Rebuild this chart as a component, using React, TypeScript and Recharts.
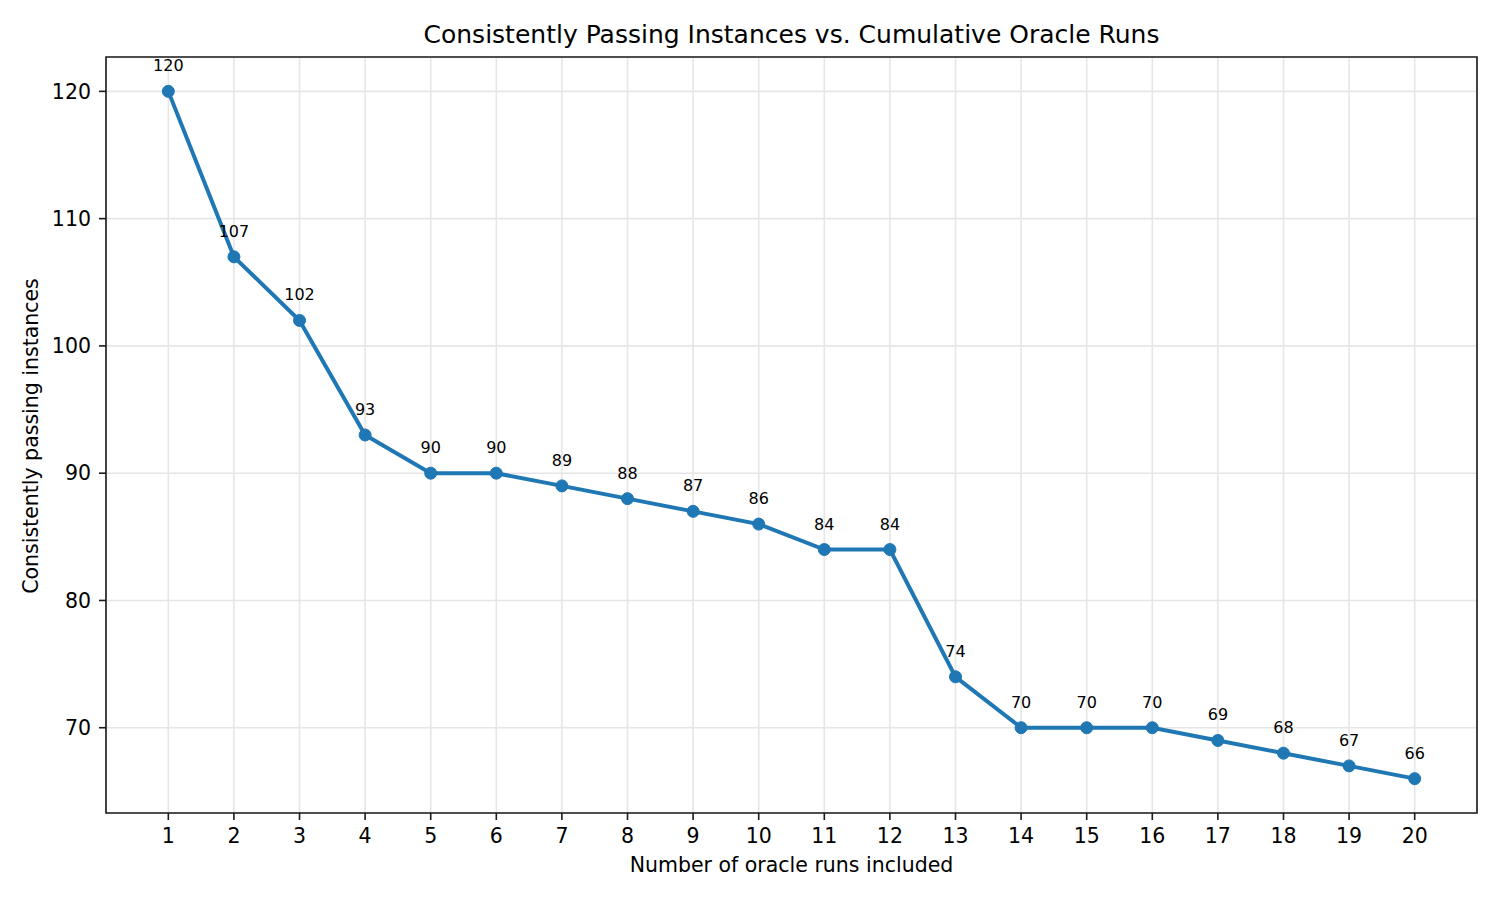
import React from 'react';
import { LineChart, Line, XAxis, YAxis, CartesianGrid, ReferenceArea, LabelList } from 'recharts';

const runs = [1, 2, 3, 4, 5, 6, 7, 8, 9, 10, 11, 12, 13, 14, 15, 16, 17, 18, 19, 20];
const passing = [120, 107, 102, 93, 90, 90, 89, 88, 87, 86, 84, 84, 74, 70, 70, 70, 69, 68, 67, 66];
const yTicks = [70, 80, 90, 100, 110, 120];

const data = runs.map((r, i) => ({ run: r, passing: passing[i] }));

// 5% padding around the data range on both axes
const X_DOMAIN: [number, number] = [0.05, 20.95];
const Y_DOMAIN: [number, number] = [63.3, 122.7];

const FONT = '"DejaVu Sans", sans-serif';
const INK = '#1a1a1a';

const PointLabel = (props: any) => {
    const { x, y, value } = props;
    return (
        <text x={x} y={y - 20} textAnchor="middle" fontSize={16} fontFamily={FONT} fill="#000">
            {value}
        </text>
    );
};

const App: React.FC = () => {
    return (
        <div style={{ position: 'absolute', left: 0, top: 0, width: 1500, height: 900, background: '#fff', fontFamily: FONT }}>
            <div style={{ position: 'absolute', left: 0, width: 1583, top: 20, textAlign: 'center', fontSize: 25, lineHeight: 'normal', color: '#000', whiteSpace: 'nowrap' }}>
                Consistently Passing Instances vs. Cumulative Oracle Runs
            </div>
            <LineChart width={1500} height={900} data={data} margin={{ top: 57, right: 23, left: 0, bottom: 0 }}>
                <CartesianGrid stroke="#e6e6e6" strokeWidth={1.6} />
                <XAxis
                    dataKey="run"
                    type="number"
                    domain={X_DOMAIN}
                    ticks={runs}
                    allowDataOverflow
                    height={87}
                    axisLine={false}
                    tickLine={{ stroke: INK, strokeWidth: 1.6 }}
                    tickSize={7}
                    tickMargin={8}
                    tick={{ fill: '#000', fontSize: 20.5, fontFamily: FONT }}
                    interval={0}
                />
                <YAxis
                    type="number"
                    domain={Y_DOMAIN}
                    ticks={yTicks}
                    allowDataOverflow
                    width={106}
                    axisLine={false}
                    tickLine={{ stroke: INK, strokeWidth: 1.6 }}
                    tickSize={7}
                    tickMargin={8}
                    tick={{ fill: '#000', fontSize: 20.5, fontFamily: FONT }}
                />
                <ReferenceArea
                    x1={X_DOMAIN[0]}
                    x2={X_DOMAIN[1]}
                    y1={Y_DOMAIN[0]}
                    y2={Y_DOMAIN[1]}
                    fill="none"
                    stroke={INK}
                    strokeWidth={1.6}
                    ifOverflow="visible"
                />
                <Line
                    dataKey="passing"
                    stroke="#1f77b4"
                    strokeWidth={4}
                    dot={{ r: 6, fill: '#1f77b4', stroke: '#1f77b4', strokeWidth: 1 }}
                    activeDot={false}
                    isAnimationActive={false}
                >
                    <LabelList dataKey="passing" content={<PointLabel />} />
                </Line>
            </LineChart>
            <div style={{ position: 'absolute', left: 0, width: 1583, top: 853, textAlign: 'center', fontSize: 20.5, lineHeight: 'normal', color: '#000', whiteSpace: 'nowrap' }}>
                Number of oracle runs included
            </div>
            <div
                style={{
                    position: 'absolute',
                    left: 31,
                    top: 436,
                    transform: 'translate(-50%, -50%) rotate(-90deg)',
                    whiteSpace: 'nowrap',
                    fontSize: 20.5,
                    lineHeight: 'normal',
                    color: '#000',
                }}
            >
                Consistently passing instances
            </div>
        </div>
    );
};

export default App;
